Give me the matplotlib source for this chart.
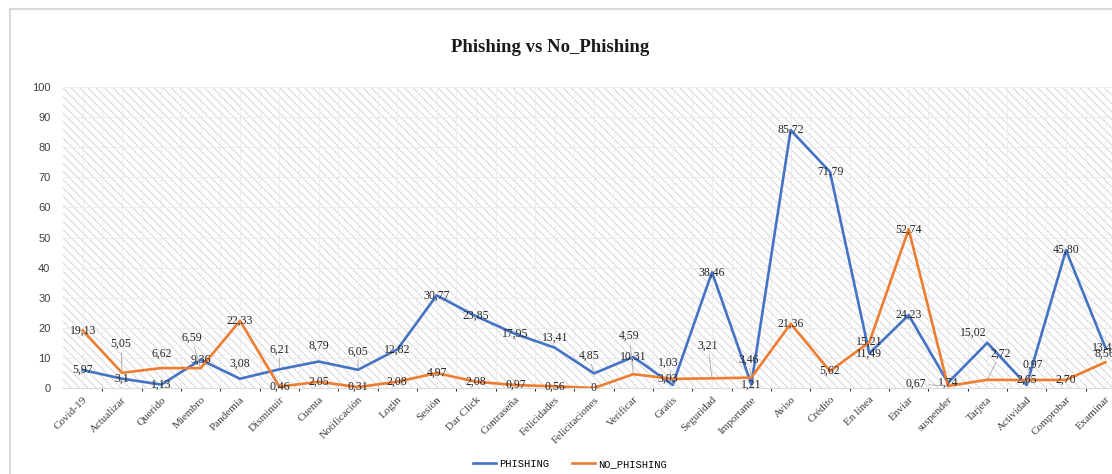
import matplotlib
matplotlib.use("Agg")
from matplotlib import pyplot as plt
from matplotlib.patches import Rectangle
import numpy as np

# categories and values (labels use decimal comma)
categories = ["Covid-19", "Actualizar", "Querido", "Miembro", "Pandemia", "Disminuir",
              "Cuenta", "Notificación", "Login", "Sesión", "Dar Click", "Contraseña",
              "Felicidades", "Felicitaciones", "Verificar", "Gratis", "Seguridad",
              "Importante", "Aviso", "Crédito", "En línea", "Enviar", "suspender",
              "Tarjeta", "Actividad", "Comprobar", "Examinar"]

phishing_txt = ["5,97", "3,1", "1,13", "9,36", "3,08", "6,21", "8,79", "6,05", "12,82",
                "30,77", "23,85", "17,95", "13,41", "4,85", "10,31", "1,03", "38,46",
                "1,21", "85,72", "71,79", "11,49", "24,23", "1,74", "15,02", "0,97",
                "45,80", "13,46"]

no_phishing_txt = ["19,13", "5,05", "6,62", "6,59", "22,33", "0,46", "2,05", "0,31", "2,08",
                   "4,97", "2,08", "0,97", "0,56", "0", "4,59", "3,03", "3,21", "3,46",
                   "21,36", "5,62", "15,21", "52,74", "0,67", "2,72", "2,65", "2,70", "8,56"]

phishing = [float(s.replace(",", ".")) for s in phishing_txt]
no_phishing = [float(s.replace(",", ".")) for s in no_phishing_txt]

# label offsets in pixels (dx, dy), mimicking Excel's label placement
off_blue = {4: (0, 15), 5: (0, 20), 6: (0, 16), 7: (0, 18), 12: (0, 10), 13: (-5, 18),
            15: (-4, 22), 23: (-14, 10), 24: (6, 20)}
off_orange = {1: (-1, 29), 2: (0, 14), 3: (-9, 30), 14: (-4, 38), 15: (-5, 0),
              16: (-4, 33), 17: (-3, 18), 22: (-32, 2), 23: (13, 26), 26: (0, 9)}

blue = "#4472C4"
orange = "#ED7D31"
plt.rcParams["hatch.linewidth"] = 0.7

fig = plt.figure(figsize=(11.12, 4.74), dpi=100)
# chart frame (right and bottom edges fall outside the picture)
fig.patches.append(Rectangle((10 / 1112, -0.1), 1.2, 1 - 9 / 474 + 0.1, transform=fig.transFigure,
                             fill=False, edgecolor="#d9d9d9", lw=1.5))

ax = fig.add_axes([63 / 1112, 1 - 388 / 474, 1062 / 1112, 301 / 474])
ax.add_patch(Rectangle((0, 0), 1, 1, transform=ax.transAxes, facecolor="white",
                       edgecolor="#d6d6d6", lw=0, hatch="\\\\\\\\", zorder=0))

x = np.arange(len(categories))
ax.plot(x, phishing, color=blue, lw=1.9, label="PHISHING", zorder=3)
ax.plot(x, no_phishing, color=orange, lw=1.9, label="NO_PHISHING", zorder=3)

lab_font = dict(family="Liberation Serif", size=8.5, color="#262626")
for series, txts, offs in [(phishing, phishing_txt, off_blue), (no_phishing, no_phishing_txt, off_orange)]:
    for i, (v, t) in enumerate(zip(series, txts)):
        dx, dy = offs.get(i, (0, 0))
        arrow = None
        if abs(dx) + abs(dy) > 17:
            arrow = dict(arrowstyle="-", color="#a6a6a6", lw=0.6, shrinkA=0, shrinkB=1)
        ax.annotate(t, (i, v), xytext=(dx, dy), textcoords="offset pixels",
                    ha="center", va="center", arrowprops=arrow, zorder=5, **lab_font)

ax.set_xlim(-0.5, len(categories) - 0.5)
ax.set_ylim(0, 100)
ax.set_yticks(range(0, 101, 10))
ax.set_xticks(x)
ax.set_xticklabels(categories, rotation=45, ha="right", rotation_mode="anchor",
                   family="Liberation Serif", fontsize=8, color="#404040")
for lbl in ax.get_yticklabels():
    lbl.set_family("Liberation Sans")
    lbl.set_fontsize(8)
    lbl.set_color("#404040")
ax.tick_params(length=0)
ax.tick_params(axis="y", pad=9)
ax.tick_params(axis="x", pad=5)

ax.set_xticks(x + 0.5, minor=True)
ax.grid(True, which="both", color="#ebebeb", lw=0.6, zorder=1)
ax.set_axisbelow(True)
for s in ["left", "right", "top"]:
    ax.spines[s].set_visible(False)
ax.spines["bottom"].set_color("#d9d9d9")

fig.text(550 / 1112, 1 - 48 / 474, "Phishing vs No_Phishing", ha="center", va="center",
         family="Liberation Serif", fontweight="bold", fontsize=13.5, color="#1a1a1a")

fig.legend(loc="center", bbox_to_anchor=(570 / 1112, 1 - 464 / 474), ncol=2, frameon=False,
           prop=dict(family="Liberation Mono", size=7.5), handlelength=2.2, handletextpad=0.3,
           columnspacing=2.2)

fig.savefig("out.png", dpi=100)
